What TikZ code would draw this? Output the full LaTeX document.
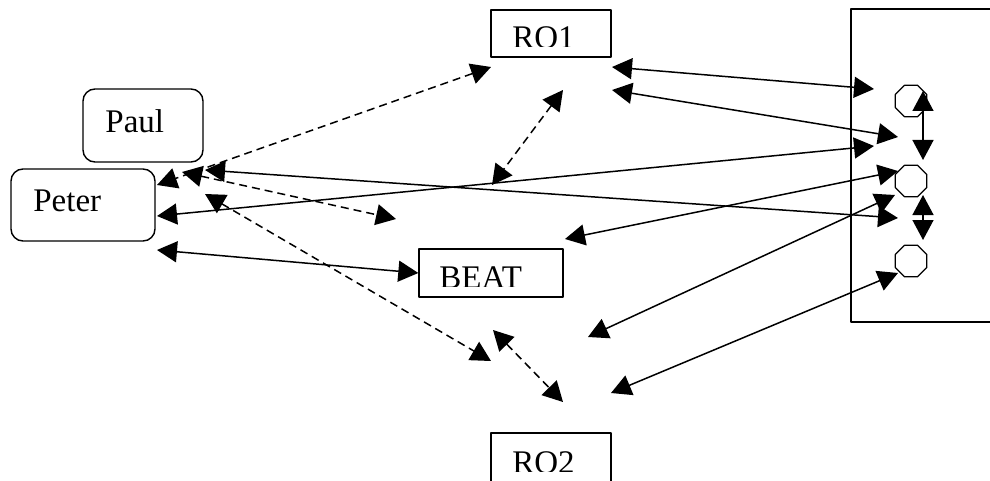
\documentclass[tikz,border=0pt]{standalone}
\usepackage{fontspec}
\setmainfont{Liberation Serif}
\usetikzlibrary{arrows.meta,shapes.geometric}

\tikzset{
  rbox/.style={draw,line width=0.7pt,rounded corners=6pt,inner sep=0pt},
  sbox/.style={draw,line width=0.7pt,inner sep=0pt},
  lbl/.style={anchor=base west,inner sep=0pt,font=\fontsize{16.5}{19}\selectfont},
  oct/.style={draw,line width=0.65pt,regular polygon,regular polygon sides=8,minimum size=17pt,inner sep=0pt},
  link/.style={<->,line width=0.75pt},
  dlink/.style={<->,line width=0.75pt,dash pattern=on 4pt off 2.5pt}
}

\begin{document}
\begin{tikzpicture}[x=0.5pt,y=-0.5pt,>={Triangle[length=10pt,width=10.5pt]},line join=round]
  \useasboundingbox (0,0) rectangle (990,481);
  % boxes
  \node[rbox,minimum width=60pt,minimum height=36.5pt] (paul) at (143,125.5) {};
  \node[rbox,minimum width=72pt,minimum height=36pt] (peter) at (83,205) {};
  \node[sbox,minimum width=60pt,minimum height=23.5pt] (ro1) at (551,33.5) {};
  \node[sbox,minimum width=72pt,minimum height=24pt] (beat) at (491,273) {};
  \node[sbox,minimum width=60pt,minimum height=28.5pt] (ro2) at (551,461.5) {};
  \node[sbox,minimum width=74.5pt,minimum height=156.5pt] (panel) at (925.5,165.5) {};
  % labels
  \node[lbl] (paultxt) at (105,132.5) {Paul};
  \node[lbl] (petertxt) at (33,211.5) {Peter};
  \begin{scope}
    \clip (492,11) rectangle (610,47);
    \node[lbl] (ro1txt) at (512,48.5) {RO1};
  \end{scope}
  \begin{scope}
    \clip (420,250) rectangle (562,286);
    \node[lbl] (beattxt) at (439,288.5) {BEAT};
  \end{scope}
  \begin{scope}
    \clip (492,434) rectangle (610,471.5);
    \node[lbl] (ro2txt) at (512,473.5) {RO2};
  \end{scope}
  % ports
  \node[oct] (o1) at (911,101) {};
  \node[oct] (o2) at (911,181) {};
  \node[oct] (o3) at (911,261) {};
  % arrow ends
  \coordinate (pa) at (157,185);
  \coordinate (pb) at (157,216);
  \coordinate (pc) at (157,250);
  \coordinate (pu1) at (182,172);
  \coordinate (pu2) at (205,170);
  \coordinate (pu3) at (205,194);
  \coordinate (r1a) at (491,67);
  \coordinate (r1b) at (612,67);
  \coordinate (r1c) at (612,90);
  \coordinate (r1d) at (563,90);
  \coordinate (m1) at (492,185);
  \coordinate (m2) at (396,219);
  \coordinate (m3) at (565,239);
  \coordinate (m4) at (491,361);
  \coordinate (m5) at (493,330);
  \coordinate (m6) at (588,337);
  \coordinate (m7) at (563,402);
  \coordinate (m8) at (611,393);
  \coordinate (k1) at (874,89);
  \coordinate (k2) at (898,137);
  \coordinate (k3) at (874,146);
  \coordinate (k4) at (898,171);
  \coordinate (k5) at (895,195);
  \coordinate (k6) at (898,218);
  \coordinate (k7) at (898,273);
  \coordinate (v1a) at (923,91);
  \coordinate (v1b) at (923,160);
  \coordinate (v2a) at (923,195);
  \coordinate (v2b) at (923,240);
  % solid links
  \draw[link] (r1b) -- (k1);
  \draw[link] (r1c) -- (k2);
  \draw[link] (k3) -- (pb);
  \draw[link] (k4) -- (m3);
  \draw[link] (pu2) -- (k6);
  \draw[link] (m6) -- (k5);
  \draw[link] (k7) -- (m8);
  \draw[link] (pc) -- (beat.west);
  \draw[link] (v1a) -- (v1b);
  \draw[link] (v2a) -- (v2b);
  % dashed links
  \draw[dlink] (r1a) -- (pa);
  \draw[dlink] (pu1) -- (m2);
  \draw[dlink] (pu3) -- (m4);
  \draw[dlink] (r1d) -- (m1);
  \draw[dlink] (m5) -- (m7);
\end{tikzpicture}
\end{document}
